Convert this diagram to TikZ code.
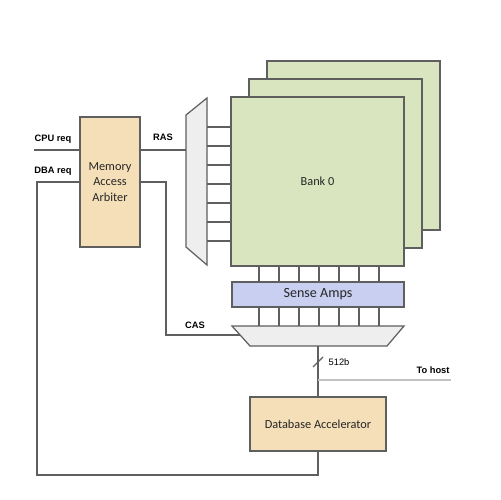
\documentclass[tikz,border=0pt]{standalone}
\usepackage{fontspec}
\setmainfont{Carlito}
\newfontfamily\labelfont{Liberation Sans}
\usepackage{tikz}
\usetikzlibrary{arrows}
\definecolor{arbfill}{HTML}{F4DFB8}
\definecolor{bankfill}{HTML}{D9E5BE}
\definecolor{ampfill}{HTML}{C9CFF0}
\definecolor{muxfill}{HTML}{EEEEEE}
\definecolor{wirecol}{HTML}{5F5F5F}
\definecolor{hostcol}{HTML}{C2C2C2}

\begin{document}
\begin{tikzpicture}[x=0.02cm,y=-0.02cm]
    \tikzset{block/.style = {shape=rectangle,draw=wirecol,line width=0.7pt,font=\fontsize{7}{9}\selectfont,text=black!85,align=center,inner sep=0pt}}
    \tikzset{bank/.style = {block,fill=bankfill,minimum width=3.46cm,minimum height=3.38cm}}
    \tikzset{wire/.style = {draw=wirecol,line width=0.7pt}}
    \tikzset{sig/.style = {font=\labelfont\bfseries\fontsize{5.3}{6}\selectfont,inner sep=0pt}}
    \useasboundingbox (0,0) rectangle (500,500);
    % vertices
    \node[bank] (bank2) at (353.5,145.5) {};
    \node[bank] (bank1) at (335.5,163.5) {};
    \node[bank] (bank0) at (317.5,181.5) {Bank 0};
    \node[block,fill=arbfill,minimum width=1.2cm,minimum height=2.6cm] (arb) at (110,182) {Memory\\Access\\Arbiter};
    \node[block,fill=ampfill,minimum width=3.44cm,minimum height=0.5cm,font=\fontsize{8}{9}\selectfont] (amps) at (318,294.5) {Sense Amps};
    \node[block,fill=arbfill,minimum width=2.72cm,minimum height=1.08cm] (dba) at (318,424) {Database Accelerator};
    % muxes
    \draw[wire,fill=muxfill] (186,115) coordinate (rl) -- (207,98) -- (207,265) -- (186,247) -- cycle;
    \draw[wire,fill=muxfill] (232,326) -- (404,326) -- (387,346) -- (250,346) -- cycle;
    \coordinate (ras) at (186,150);
    \coordinate (cas) at (240,335);
    \coordinate (cout) at (318,346);
    \coordinate (cpu) at (34,150);
    %edges
    \foreach \y in {127,146,165,184,203,222,241}
        \draw[wire] (207,\y) -- (bank0.west |- 0,\y);
    \foreach \x in {259,279,299,319,339,359,379} {
        \draw[wire] (bank0.south -| \x,0) -- (amps.north -| \x,0);
        \draw[wire] (amps.south -| \x,0) -- (\x,326);
    }
    \draw[wire] (cpu) -- (arb.west |- cpu);
    \draw[wire] (arb.east |- ras) -- (ras);
    \draw[wire] (arb.west) -- (37,182) -- (37,475) -| (dba.south);
    \draw[wire] (arb.east) -- (166,182) |- (cas);
    \draw[wire] (cout) -- (dba.north);
    \draw[wire] (313,367) -- (323,357);
    \draw[draw=hostcol,line width=0.9pt] (cout |- 0,380) -- (451,380);
    % labels
    \node[sig] at (53,139) {CPU req};
    \node[sig] at (53,171) {DBA req};
    \node[sig] at (163,137) {RAS};
    \node[sig] at (195,325) {CAS};
    \node[sig,font=\labelfont\fontsize{5.3}{6}\selectfont] at (339,362) {512b};
    \node[sig] at (433,370) {To host};
\end{tikzpicture}
\end{document}
